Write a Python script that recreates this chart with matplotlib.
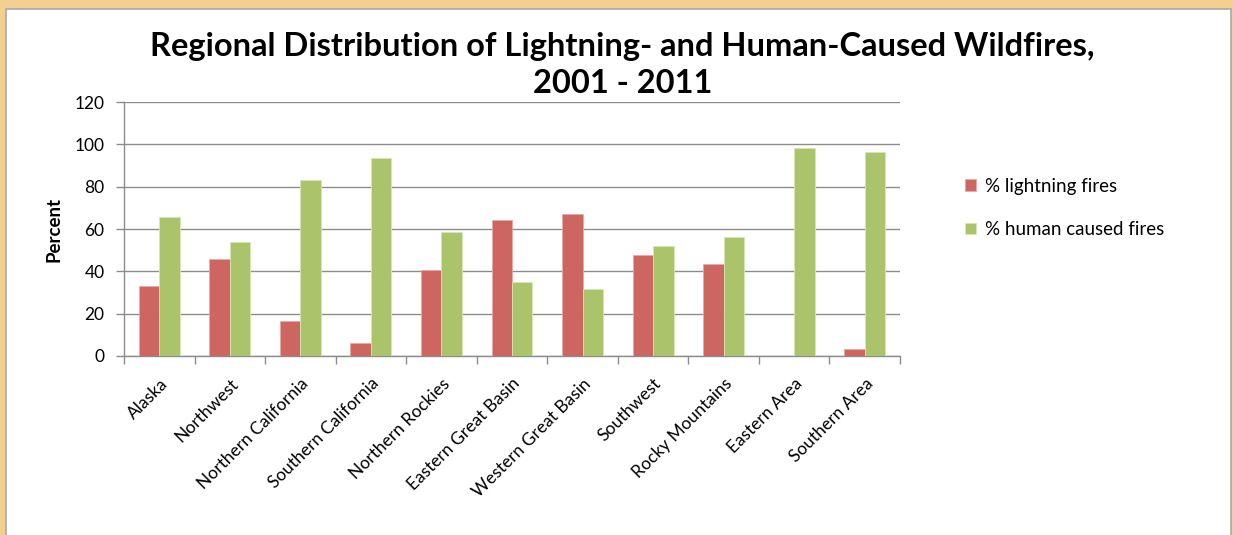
"""Regional distribution of lightning- and human-caused wildfires, 2001-2011."""
import matplotlib

matplotlib.use("Agg")
import matplotlib.pyplot as plt  # noqa: E402
import numpy as np  # noqa: E402
from matplotlib.patches import Rectangle  # noqa: E402

regions = [
    "Alaska", "Northwest", "Northern California", "Southern California",
    "Northern Rockies", "Eastern Great Basin", "Western Great Basin",
    "Southwest", "Rocky Mountains", "Eastern Area", "Southern Area",
]
lightning_pct = [33.0, 45.7, 16.5, 6.0, 40.6, 64.2, 67.1, 47.7, 43.5, 0.0, 3.3]
human_pct = [65.7, 53.9, 83.0, 93.4, 58.7, 35.1, 31.6, 51.8, 56.1, 98.3, 96.2]
y_ticks = [0, 20, 40, 60, 80, 100, 120]

RED = "#CD6660"
GREEN = "#ABC46B"
GRID = "#8C8C8C"
FONT = ["Lato", "DejaVu Sans"]

plt.rcParams["font.family"] = FONT

fig = plt.figure(figsize=(12.33, 5.35), dpi=100)
fig.patch.set_facecolor("#F3D08F")
# white chart panel with thin grey border, kept under the axes
fig.patches.append(Rectangle(
    (6 / 1233, -0.05), 1225 / 1233, 1.05 - 9 / 535,
    transform=fig.transFigure, facecolor="white", edgecolor="#A8A8A8",
    linewidth=1.2, zorder=-10,
))

ax = fig.add_axes([124 / 1233, 1 - 356 / 535, 776 / 1233, 254 / 535])
ax.set_zorder(5)
ax.set_facecolor("white")

x = np.arange(len(regions))
w = 0.29
ax.bar(x - w / 2, lightning_pct, width=w, color=RED, edgecolor="#E8A9A6",
       linewidth=0.6, label="% lightning fires", zorder=3)
ax.bar(x + w / 2, human_pct, width=w, color=GREEN, edgecolor="#D6E6B4",
       linewidth=0.6, label="% human caused fires", zorder=3)

ax.set_xlim(-0.5, len(regions) - 0.5)
ax.set_ylim(0, 120)
ax.set_yticks(y_ticks)
ax.set_yticklabels([str(v) for v in y_ticks], fontsize=12.5)
ax.yaxis.grid(True, color=GRID, linewidth=1.0, zorder=0)
ax.set_axisbelow(True)

ax.set_xticks(x)
ax.set_xticklabels(regions, rotation=45, ha="right", rotation_mode="anchor",
                   fontsize=12.5)
ax.tick_params(axis="x", length=0, pad=14)
ax.set_xticks(np.arange(-0.5, len(regions) + 0.5, 1.0), minor=True)
ax.tick_params(axis="x", which="minor", length=6, color=GRID, width=1.0)
ax.tick_params(axis="y", length=6, color=GRID, width=1.0, pad=8)

for side in ("top", "right"):
    ax.spines[side].set_visible(False)
for side in ("left", "bottom"):
    ax.spines[side].set_color(GRID)
    ax.spines[side].set_linewidth(1.0)

ax.set_ylabel("Percent", fontsize=13.5, fontweight="bold", labelpad=9)

fig.text(0.505, 1 - 65 / 535,
         "Regional Distribution of Lightning- and Human-Caused Wildfires,\n2001 - 2011",
         ha="center", va="center", fontsize=23.5, fontweight="bold",
         linespacing=1.3)

ax.legend(loc="upper left", bbox_to_anchor=(948 / 1233, 1 - 161 / 535),
          bbox_transform=fig.transFigure, frameon=False, fontsize=13.5,
          handlelength=0.6, handleheight=0.6, handletextpad=0.5,
          labelspacing=1.4)

fig.savefig("out.png", dpi=100, facecolor=fig.get_facecolor())
